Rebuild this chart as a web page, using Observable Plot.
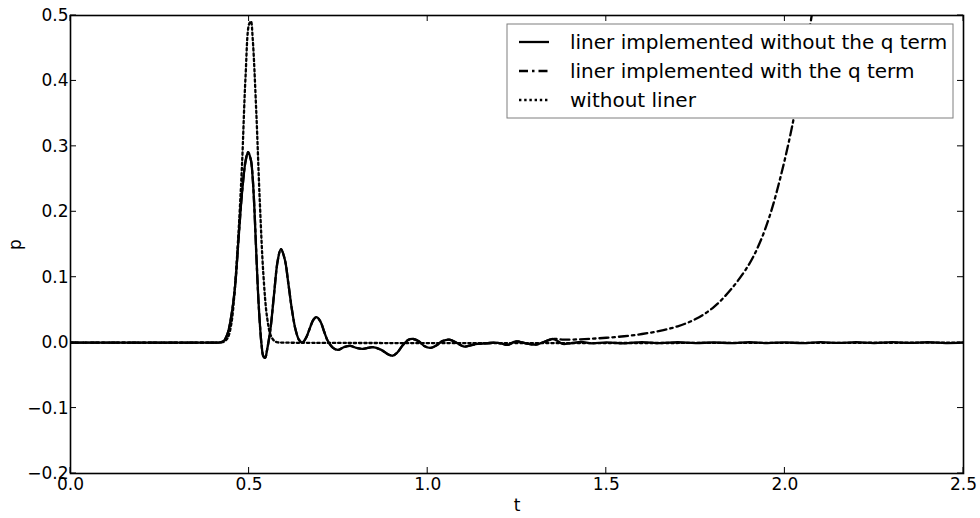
<!DOCTYPE html>
<html><head><meta charset="utf-8">
<script src="https://cdn.jsdelivr.net/npm/d3@7"></script>
<script src="https://cdn.jsdelivr.net/npm/@observablehq/plot@0.6"></script>
<style>body{margin:0;background:#fff;} #chart{width:980px;height:518px;}</style>
</head><body><div id="chart"></div>
<script>
// liner implemented without the q term
const solidT = [0, 0.30, 0.40, 0.42, 0.43, 0.44, 0.45, 0.46, 0.47, 0.48, 0.49, 0.497, 0.505, 0.51, 0.515, 0.52, 0.525, 0.53, 0.535, 0.54, 0.545, 0.55, 0.56, 0.57, 0.58, 0.589, 0.60, 0.61, 0.62, 0.63, 0.64, 0.649, 0.66, 0.67, 0.68, 0.689, 0.70, 0.71, 0.72, 0.735, 0.749, 0.765, 0.783, 0.80, 0.817, 0.832, 0.846, 0.87, 0.89, 0.902, 0.915, 0.93, 0.945, 0.958, 0.975, 0.99, 1.009, 1.025, 1.04, 1.06, 1.08, 1.102, 1.12, 1.14, 1.165, 1.19, 1.21, 1.224, 1.247, 1.275, 1.303, 1.325, 1.35, 1.365, 1.378, 1.40, 1.43, 1.46, 1.50, 1.55, 1.60, 1.65, 1.70, 1.75, 1.80, 1.85, 1.90, 1.95, 2.00, 2.05, 2.10, 2.15, 2.20, 2.25, 2.30, 2.35, 2.40, 2.45, 2.50];
const solidP = [0, 0, 0, 0.0005, 0.003, 0.014, 0.04, 0.082, 0.155, 0.228, 0.277, 0.291, 0.279, 0.252, 0.203, 0.138, 0.077, 0.03, -0.004, -0.021, -0.023, -0.012, 0.022, 0.075, 0.125, 0.143, 0.127, 0.09, 0.05, 0.02, 0.004, 0.0, 0.008, 0.022, 0.035, 0.039, 0.032, 0.017, 0.003, -0.008, -0.011, -0.007, -0.005, -0.008, -0.0095, -0.008, -0.007, -0.011, -0.018, -0.02, -0.015, -0.004, 0.004, 0.0057, 0.002, -0.005, -0.008, -0.004, 0.002, 0.0046, 0.0, -0.006, -0.004, -0.002, -0.001, 0.0, -0.002, -0.0035, 0.002, -0.001, -0.003, 0.001, 0.0056, 0.002, -0.002, -0.001, 0.001, -0.001, 0.0005, -0.001, 0.0008, -0.0008, 0.0006, -0.0008, 0.0005, -0.0008, 0.0008, -0.0006, 0.0005, -0.0008, 0.0008, -0.0005, 0.0006, -0.0008, 0.0007, -0.0005, 0.0006, -0.0006, 0.0];
// liner implemented with the q term: follows the solid curve up to t = 1.35, then grows
const dashSplitT = 1.35;
const dashTailT = [1.38, 1.42, 1.46, 1.50, 1.55, 1.60, 1.65, 1.70, 1.75, 1.80, 1.85, 1.90, 1.93, 1.96, 1.99, 2.02, 2.05, 2.075, 2.10];
const dashTailP = [0.0045, 0.005, 0.006, 0.0075, 0.0098, 0.0132, 0.018, 0.025, 0.036, 0.054, 0.082, 0.12, 0.153, 0.198, 0.258, 0.33, 0.42, 0.5, 0.6];
// without liner
const dotT = [0, 0.40, 0.42, 0.43, 0.44, 0.45, 0.46, 0.47, 0.48, 0.49, 0.50, 0.505, 0.51, 0.52, 0.53, 0.54, 0.55, 0.56, 0.57, 0.58, 0.60, 2.50];
const dotP = [0, 0, 0.0003, 0.0015, 0.007, 0.028, 0.082, 0.165, 0.27, 0.406, 0.487, 0.491, 0.465, 0.354, 0.215, 0.104, 0.04, 0.012, 0.003, 0.0005, 0, 0];

const xTicks = [0, 0.5, 1.0, 1.5, 2.0, 2.5];
const yTicks = [-0.2, -0.1, 0.0, 0.1, 0.2, 0.3, 0.4, 0.5];
const xLabel = "t";
const yLabel = "p";
const seriesLabels = ["liner implemented without the q term", "liner implemented with the q term", "without liner"];
const seriesDash = [null, "9,4,2.5,4", "2.4,2.8"];

const solid = solidT.map((t, i) => ({t, p: solidP[i]}));
const dashed = solid.filter(d => d.t <= dashSplitT).concat(dashTailT.map((t, i) => ({t, p: dashTailP[i]})));
const dotted = dotT.map((t, i) => ({t, p: dotP[i]}));

const font = "'DejaVu Sans', sans-serif";
const fmt = d3.format(".1f");
const lw = 2.3;

const chart = Plot.plot({
  width: 980, height: 518,
  marginLeft: 70, marginRight: 17, marginTop: 15, marginBottom: 45,
  style: {fontFamily: font, fontSize: "17px", background: "white", color: "black", overflow: "visible"},
  x: {domain: [0, 2.5]},
  y: {domain: [-0.2, 0.5]},
  marks: [
    Plot.lineY(solid, {x: "t", y: "p", stroke: "black", strokeWidth: lw, curve: "catmull-rom", clip: true}),
    Plot.lineY(dashed, {x: "t", y: "p", stroke: "black", strokeWidth: lw, strokeDasharray: seriesDash[1], curve: "catmull-rom", clip: true}),
    Plot.lineY(dotted, {x: "t", y: "p", stroke: "black", strokeWidth: lw, strokeDasharray: seriesDash[2], curve: "catmull-rom", clip: true}),
    Plot.axisX({anchor: "bottom", ticks: xTicks, tickSize: 0, tickPadding: 4, tickFormat: fmt, fontSize: 17,
      label: xLabel, labelAnchor: "center", labelArrow: "none", labelOffset: 37}),
    Plot.axisY({anchor: "left", ticks: yTicks, tickSize: 0, tickPadding: 2, tickFormat: fmt, fontSize: 17,
      label: yLabel, labelAnchor: "center", labelArrow: "none", labelOffset: 62}),
    Plot.frame({stroke: "black", strokeWidth: 1.6})
  ]
});
document.getElementById("chart").appendChild(chart);

const svg = d3.select(chart);
const sx = chart.scale("x"), sy = chart.scale("y");
const [x0, x1] = sx.range, [y0, y1] = sy.range; // y0 bottom, y1 top
const tickLen = 6;

// inward ticks on all four sides
const tg = svg.append("g").attr("stroke", "black").attr("stroke-width", 1);
xTicks.forEach(v => {
  const x = sx.apply(v);
  tg.append("line").attr("x1", x).attr("x2", x).attr("y1", y0).attr("y2", y0 - tickLen);
  tg.append("line").attr("x1", x).attr("x2", x).attr("y1", y1).attr("y2", y1 + tickLen);
});
yTicks.forEach(v => {
  const y = sy.apply(v);
  tg.append("line").attr("y1", y).attr("y2", y).attr("x1", x0).attr("x2", x0 + tickLen);
  tg.append("line").attr("y1", y).attr("y2", y).attr("x1", x1).attr("x2", x1 - tickLen);
});

// legend inside the plot area (upper right)
const lg = svg.append("g").attr("font-family", font).attr("font-size", 20).attr("text-anchor", "start");
lg.append("rect").attr("x", 507).attr("y", 24).attr("width", 446).attr("height", 94)
  .attr("fill", "white").attr("stroke", "#7f7f7f").attr("stroke-width", 1);
seriesLabels.forEach((label, i) => {
  const yb = 48.5 + i * 29;
  lg.append("line").attr("x1", 519).attr("x2", 549).attr("y1", yb - 6.5).attr("y2", yb - 6.5)
    .attr("stroke", "black").attr("stroke-width", lw)
    .attr("stroke-dasharray", seriesDash[i]);
  lg.append("text").attr("x", 570).attr("y", yb).attr("fill", "black").attr("text-anchor", "start").text(label);
});
</script>
</body></html>
